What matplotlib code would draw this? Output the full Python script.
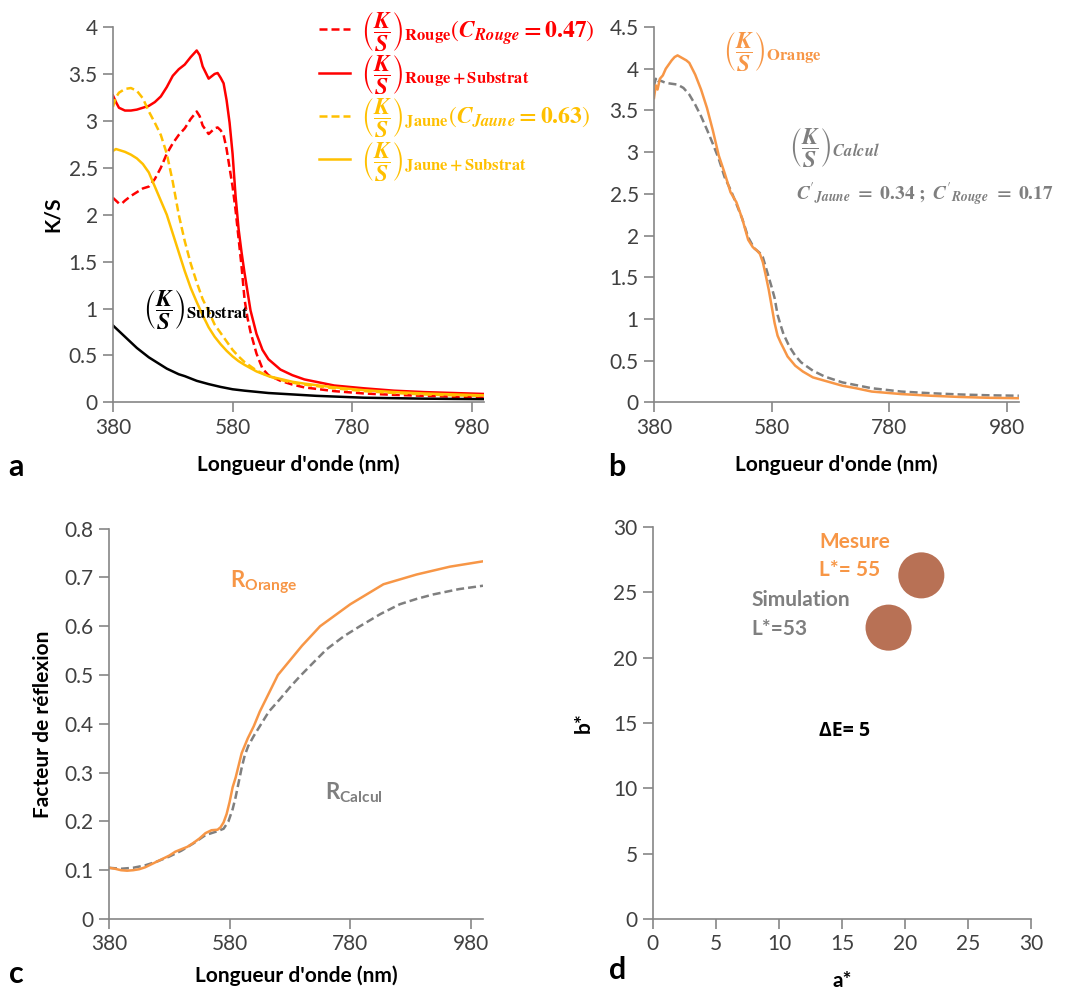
"""Spectres K/S, reflectance et coordonnées a*b* d'un mélange orange."""

import matplotlib
matplotlib.use('Agg')
import matplotlib.pyplot as plt
from matplotlib.ticker import FuncFormatter, MultipleLocator

plt.rcParams['font.family'] = ['Lato', 'DejaVu Sans']
plt.rcParams['mathtext.fontset'] = 'stix'
plt.rcParams['mathtext.bf'] = 'Lato:bold'
plt.rcParams['mathtext.rm'] = 'Lato'

# ---- panel a : K/S des colorants et du substrat ----
wl_rouge_sub = [380, 385, 390, 400, 410, 420, 430, 440, 450, 460, 470, 480, 490, 500, 510, 520, 525,
                530, 540, 550, 555, 560, 565, 570, 575, 580, 585, 590, 595, 600, 610, 620, 630,
                640, 660, 680, 700, 750, 800, 850, 900, 950, 1000]
ks_rouge_sub = [3.27, 3.20, 3.14, 3.11, 3.11, 3.12, 3.14, 3.16, 3.20, 3.26, 3.36, 3.48, 3.55, 3.60,
                3.68, 3.75, 3.70, 3.58, 3.45, 3.50, 3.51, 3.46, 3.40, 3.22, 2.98, 2.65, 2.20, 1.85,
                1.60, 1.38, 0.98, 0.73, 0.56, 0.46, 0.35, 0.29, 0.245, 0.18, 0.15, 0.125, 0.11,
                0.10, 0.09]

wl_rouge = [380, 385, 390, 395, 400, 410, 420, 430, 440, 450, 460, 470, 480, 490, 500, 510, 520,
            525, 530, 540, 550, 555, 560, 565, 570, 575, 580, 585, 590, 595, 600, 605, 610, 620,
            630, 640, 660, 680, 700, 750, 800, 850, 900, 950, 1000]
ks_rouge = [2.18, 2.15, 2.12, 2.12, 2.15, 2.20, 2.24, 2.28, 2.30, 2.38, 2.50, 2.65, 2.76, 2.85,
            2.92, 3.02, 3.10, 3.05, 2.95, 2.86, 2.92, 2.93, 2.90, 2.85, 2.70, 2.50, 2.30, 2.05,
            1.75, 1.45, 1.10, 0.90, 0.75, 0.52, 0.36, 0.29, 0.23, 0.19, 0.16, 0.12, 0.095, 0.08,
            0.07, 0.06, 0.05]

wl_jaune = [380, 385, 390, 400, 410, 420, 430, 440, 450, 460, 470, 480, 490, 500, 510, 520, 530,
            540, 550, 560, 570, 580, 590, 600, 620, 640, 660, 680, 700, 750, 800, 850, 900, 950,
            1000]
ks_jaune = [3.15, 3.25, 3.30, 3.34, 3.35, 3.32, 3.24, 3.10, 2.98, 2.85, 2.65, 2.35, 2.00, 1.72,
            1.48, 1.28, 1.10, 0.97, 0.83, 0.74, 0.65, 0.56, 0.49, 0.43, 0.34, 0.28, 0.24, 0.21,
            0.19, 0.15, 0.12, 0.10, 0.085, 0.075, 0.07]

wl_jaune_sub = [380, 385, 390, 400, 410, 420, 430, 440, 450, 460, 470, 480, 490, 500, 510, 520,
                530, 540, 550, 560, 570, 580, 590, 600, 620, 640, 660, 680, 700, 750, 800, 850,
                900, 950, 1000]
ks_jaune_sub = [2.68, 2.70, 2.69, 2.67, 2.64, 2.60, 2.54, 2.45, 2.30, 2.15, 2.00, 1.80, 1.60,
                1.40, 1.22, 1.07, 0.93, 0.80, 0.70, 0.62, 0.55, 0.49, 0.44, 0.40, 0.33, 0.28,
                0.25, 0.22, 0.20, 0.16, 0.13, 0.11, 0.095, 0.085, 0.075]

wl_sub = [380, 390, 400, 410, 420, 430, 440, 450, 460, 470, 480, 490, 500, 520, 540, 560, 580,
          600, 640, 680, 720, 760, 800, 850, 900, 950, 1000]
ks_sub = [0.82, 0.76, 0.70, 0.64, 0.58, 0.53, 0.48, 0.44, 0.40, 0.36, 0.33, 0.30, 0.28, 0.23,
          0.195, 0.165, 0.14, 0.125, 0.10, 0.085, 0.07, 0.06, 0.05, 0.045, 0.04, 0.037, 0.035]

# ---- panel b : K/S orange mesuré et calculé ----
wl_orange = [380, 383, 386, 390, 395, 400, 405, 410, 415, 420, 425, 430, 435, 440, 445, 450, 460,
             470, 480, 490, 500, 510, 520, 530, 540, 548, 555, 560, 565, 570, 575, 580, 585, 590,
             595, 600, 607, 620, 633, 650, 670, 700, 723, 750, 800, 850, 900, 950, 1000]
ks_orange = [3.65, 3.80, 3.75, 3.88, 3.92, 4.00, 4.05, 4.10, 4.14, 4.16, 4.14, 4.12, 4.10, 4.07,
             4.00, 3.93, 3.75, 3.53, 3.26, 2.96, 2.75, 2.52, 2.40, 2.20, 1.95, 1.86, 1.82, 1.78,
             1.68, 1.52, 1.35, 1.15, 0.95, 0.80, 0.72, 0.65, 0.55, 0.44, 0.37, 0.30, 0.26, 0.20,
             0.17, 0.13, 0.10, 0.08, 0.065, 0.055, 0.05]

wl_calc = [380, 383, 386, 390, 400, 410, 420, 430, 435, 440, 450, 460, 470, 480, 490, 500, 510,
           520, 530, 540, 550, 560, 565, 570, 575, 580, 585, 590, 595, 600, 610, 620, 630, 650,
           670, 700, 750, 800, 850, 900, 950, 1000]
ks_calc = [3.80, 3.88, 3.83, 3.86, 3.83, 3.82, 3.81, 3.77, 3.73, 3.69, 3.57, 3.43, 3.27, 3.10,
           2.92, 2.70, 2.55, 2.38, 2.20, 1.98, 1.85, 1.79, 1.74, 1.62, 1.50, 1.38, 1.25, 1.05,
           0.93, 0.82, 0.67, 0.56, 0.48, 0.38, 0.31, 0.24, 0.17, 0.13, 0.11, 0.095, 0.085, 0.08]

# ---- panel c : facteur de réflexion ----
wl_r_orange = [380, 390, 400, 410, 420, 430, 440, 450, 460, 470, 480, 490, 500, 510, 520, 530,
               540, 550, 560, 565, 570, 575, 580, 585, 590, 595, 600, 610, 620, 630, 640, 660,
               680, 700, 730, 780, 835, 890, 945, 1000]
r_orange = [0.105, 0.103, 0.100, 0.099, 0.100, 0.102, 0.106, 0.112, 0.118, 0.124, 0.130, 0.138,
            0.143, 0.148, 0.156, 0.165, 0.176, 0.182, 0.183, 0.188, 0.198, 0.215, 0.240, 0.270,
            0.290, 0.315, 0.340, 0.370, 0.395, 0.425, 0.450, 0.500, 0.530, 0.560, 0.600, 0.645,
            0.686, 0.706, 0.722, 0.733]

wl_r_calc = [380, 400, 420, 440, 460, 480, 500, 520, 540, 560, 570, 578, 585, 590, 595, 600, 605,
             611, 620, 630, 645, 663, 680, 697, 720, 741, 770, 796, 830, 862, 890, 917, 960, 1000]
r_calc = [0.105, 0.103, 0.105, 0.110, 0.118, 0.128, 0.140, 0.155, 0.172, 0.180, 0.185, 0.200,
          0.225, 0.250, 0.280, 0.310, 0.335, 0.355, 0.375, 0.395, 0.425, 0.450, 0.475, 0.498,
          0.527, 0.553, 0.580, 0.600, 0.625, 0.645, 0.656, 0.665, 0.676, 0.683]

# ---- panel d : a*, b* ----
lab_points = ['Mesure', 'Simulation']
a_star = [21.3, 18.7]
b_star = [26.3, 22.3]

x_ticks = [380, 580, 780, 980]

RED = '#FF0000'
YELLOW = '#FFC000'
ORANGE = '#F79646'
GRAY = '#7F7F7F'
AXIS = '#868686'
TICK_TXT = '#404040'
DASH = (0, (3.2, 1.6))
KS = r'\left(\dfrac{\mathbfit{K}}{\mathbfit{S}}\right)'

fmt = FuncFormatter(lambda v, p: f'{v:g}')


def style_axes(ax):
    for side in ('top', 'right'):
        ax.spines[side].set_visible(False)
    for side in ('left', 'bottom'):
        ax.spines[side].set_color(AXIS)
        ax.spines[side].set_linewidth(1.2)
    ax.tick_params(axis='both', direction='out', length=7, width=1.2, color=AXIS,
                   labelsize=15, labelcolor=TICK_TXT, pad=4)
    ax.yaxis.set_major_formatter(fmt)


fig = plt.figure(figsize=(10.81, 10.01), dpi=100)
ax_a = fig.add_axes([0.1045, 0.598, 0.343, 0.375])
ax_b = fig.add_axes([0.605, 0.598, 0.3375, 0.375])
ax_c = fig.add_axes([0.1008, 0.0819, 0.346, 0.390])
ax_d = fig.add_axes([0.604, 0.0819, 0.3497, 0.3916])

# --- a ---
ax_a.plot(wl_rouge, ks_rouge, color=RED, lw=1.8, ls=DASH,
          label='$' + KS + r'_{\mathbf{Rouge}}(\mathbfit{C}_{\mathbfit{Rouge}}\mathbf{=0.47})$')
ax_a.plot(wl_rouge_sub, ks_rouge_sub, color=RED, lw=1.8,
          label='$' + KS + r'_{\mathbf{Rouge+Substrat}}$')
ax_a.plot(wl_jaune, ks_jaune, color=YELLOW, lw=1.8, ls=DASH,
          label='$' + KS + r'_{\mathbf{Jaune}}(\mathbfit{C}_{\mathbfit{Jaune}}\mathbf{=0.63})$')
ax_a.plot(wl_jaune_sub, ks_jaune_sub, color=YELLOW, lw=1.8,
          label='$' + KS + r'_{\mathbf{Jaune+Substrat}}$')
ax_a.plot(wl_sub, ks_sub, color='black', lw=1.8)
ax_a.text(430, 0.98, '$' + KS + r'_{\mathbf{Substrat}}$',
          fontsize=17, va='center', ha='left', color='black')
leg = ax_a.legend(loc='upper left', bbox_to_anchor=(0.53, 1.07), frameon=False,
                  prop={'size': 17, 'math_fontfamily': 'stix'}, handlelength=1.3,
                  handletextpad=0.5, labelspacing=0.0,
                  labelcolor='linecolor', borderaxespad=0)
ax_a.set_xlim(380, 1000)
ax_a.set_ylim(0, 4)
ax_a.yaxis.set_major_locator(MultipleLocator(0.5))
ax_a.set_xticks(x_ticks)
ax_a.set_ylabel('K/S', fontsize=15, fontweight='bold', labelpad=4)
ax_a.set_xlabel("Longueur d'onde (nm)", fontsize=15, fontweight='bold', labelpad=12)
style_axes(ax_a)

# --- b ---
ax_b.plot(wl_calc, ks_calc, color=GRAY, lw=1.8, ls=DASH)
ax_b.plot(wl_orange, ks_orange, color=ORANGE, lw=1.8)
ax_b.text(497, 4.2, '$' + KS + r'_{\mathbf{Orange}}$',
          fontsize=17, color=ORANGE, va='center', ha='left')
ax_b.text(610, 3.05, '$' + KS + r'_{\mathbfit{Calcul}}$',
          fontsize=17, color=GRAY, va='center', ha='left')
ax_b.text(622, 2.5, r"$\mathbfit{C}'_{\mathbfit{Jaune}}\mathbf{\ =\ 0.34\ ;\ }"
                    r"\mathbfit{C}'_{\mathbfit{Rouge}}\mathbf{\ =\ 0.17}$",
          fontsize=14, color=GRAY, va='center', ha='left')
ax_b.set_xlim(380, 1000)
ax_b.set_ylim(0, 4.5)
ax_b.yaxis.set_major_locator(MultipleLocator(0.5))
ax_b.set_xticks(x_ticks)
ax_b.set_xlabel("Longueur d'onde (nm)", fontsize=15, fontweight='bold', labelpad=12)
style_axes(ax_b)

# --- c ---
ax_c.plot(wl_r_calc, r_calc, color=GRAY, lw=1.8, ls=DASH)
ax_c.plot(wl_r_orange, r_orange, color=ORANGE, lw=1.8)
ax_c.text(580, 0.69, r'$\mathbf{R}_{\mathbf{Orange}}$', fontsize=16, color=ORANGE,
          va='center', math_fontfamily='custom')
ax_c.text(738, 0.258, r'$\mathbf{R}_{\mathbf{Calcul}}$', fontsize=16, color=GRAY,
          va='center', math_fontfamily='custom')
ax_c.set_xlim(380, 1000)
ax_c.set_ylim(0, 0.8)
ax_c.yaxis.set_major_locator(MultipleLocator(0.1))
ax_c.set_xticks(x_ticks)
ax_c.set_ylabel('Facteur de réflexion', fontsize=15, fontweight='bold', labelpad=8)
ax_c.set_xlabel("Longueur d'onde (nm)", fontsize=15, fontweight='bold', labelpad=8)
style_axes(ax_c)

# --- d ---
ax_d.scatter(a_star, b_star, s=1100, color='#B87155', edgecolors='none', zorder=3)
ax_d.text(13.2, 28.85, 'Mesure', fontsize=15, fontweight='bold', color=ORANGE, va='center')
ax_d.text(13.2, 26.7, 'L*= 55', fontsize=15, fontweight='bold', color=ORANGE, va='center')
ax_d.text(7.8, 24.4, 'Simulation', fontsize=15, fontweight='bold', color=GRAY, va='center')
ax_d.text(7.8, 22.2, 'L*=53', fontsize=15, fontweight='bold', color=GRAY, va='center')
ax_d.text(13.2, 14.4, 'ΔE= 5', fontsize=14, fontweight='bold', color='black', va='center',
          family=['Open Sans', 'DejaVu Sans'])
ax_d.set_xlim(0, 30)
ax_d.set_ylim(0, 30)
ax_d.xaxis.set_major_locator(MultipleLocator(5))
ax_d.yaxis.set_major_locator(MultipleLocator(5))
ax_d.set_ylabel('b*', fontsize=15, fontweight='bold', labelpad=14)
ax_d.set_xlabel('a*', fontsize=15, fontweight='bold', labelpad=12)
style_axes(ax_d)

for lbl, x, y in [('a', 0.008, 0.524), ('b', 0.563, 0.524), ('c', 0.008, 0.018), ('d', 0.563, 0.022)]:
    fig.text(x, y, lbl, fontsize=22, fontweight='bold', color='black')

fig.savefig('out.png', dpi=100)
plt.close(fig)
